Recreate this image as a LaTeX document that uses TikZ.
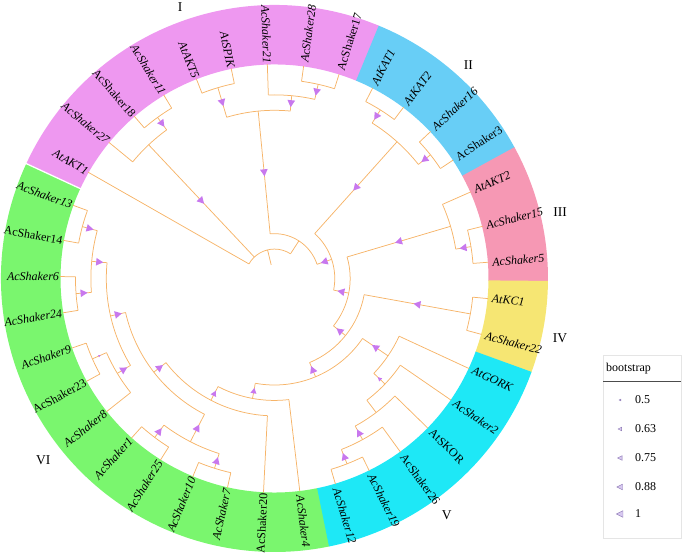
\documentclass[tikz,border=0pt]{standalone}
\usepackage{fontspec}
\setmainfont{Liberation Serif}
\definecolor{brc}{RGB}{246,180,105}
\definecolor{bsc}{RGB}{200,120,238}
\definecolor{gI}{RGB}{238,152,240}
\definecolor{gII}{RGB}{104,206,246}
\definecolor{gIII}{RGB}{246,152,180}
\definecolor{gIV}{RGB}{246,230,115}
\definecolor{gV}{RGB}{30,232,246}
\definecolor{gVI}{RGB}{122,246,110}
\definecolor{legedge}{RGB}{140,120,180}
\definecolor{legfill}{RGB}{215,200,240}
\newcommand\stem[3]{\draw[br] (#1:{14+15.42*(#2)}) -- (#1:{14+15.42*(#3)});}
\newcommand\arcat[3]{\draw[br] (#2:{14+15.42*(#1)}) arc[start angle=#2, end angle=#3, radius={14+15.42*(#1)}];}
\newcommand\bsm[4]{\fill[bsc, rotate=#1] ({7.71*(#2+#3)+14-0.55*#4},0) -- ({7.71*(#2+#3)+14+0.45*#4},{0.55*#4}) -- ({7.71*(#2+#3)+14+0.45*#4},{-0.55*#4}) -- cycle;}
\newcommand\seg[3]{\fill[#1] (#2:214) arc[start angle=#2,end angle=#3,radius=214] -- (#3:273.5) arc[start angle=#3,end angle=#2,radius=273.5] -- cycle;}
\newcommand\lbR[4]{\node[lab,anchor=west,rotate=#2] (#1) at (#2:214.5) {#3 #4};}
\newcommand\lbL[4]{\node[lab,anchor=east,rotate={#2+180}] (#1) at (#2:214.5) {#3 #4};}
\newcommand\legtri[4]{\filldraw[legedge, fill=legfill, line width=0.4pt] ({#1-0.55*#3},#2) -- ({#1+0.45*#3},{#2+0.5*#3}) -- ({#1+0.45*#3},{#2-0.5*#3}) -- cycle; \node[legtxt, anchor=west] at (634,#2) {#4};}
\begin{document}
\begin{tikzpicture}[x=1pt,y=1pt,
  br/.style={draw=brc, line width=0.75pt},
  lab/.style={font=\fontsize{12}{14}\selectfont, inner sep=0.8pt},
  glab/.style={font=\fontsize{13.5}{15}\selectfont, inner sep=0pt},
  legtxt/.style={font=\fontsize{12}{14}\selectfont, inner sep=1pt}]
\useasboundingbox (0,0) rectangle (685,553);
\begin{scope}[shift={(274.5,274.5)}]
% ring segments
\seg{gVI}{-78.35}{-204.84}
\seg{gI}{155.165}{67.45}
\seg{gII}{67.60}{28.55}
\seg{gIII}{28.68}{-0.65}
\seg{gIV}{-0.51}{-20.1}
\seg{gV}{-19.97}{-78.5}
\draw[white, line width=1.3pt] (155.165:212) -- (155.165:275);
% root
\stem{103.67}{0}{1}
\arcat{1}{150.3}{57.035}
\stem{150.3}{1}{13}
% clade 27/18/11
\stem{133.27}{1}{11} \bsm{133.27}{1}{11}{7}
\arcat{11}{140.57}{125.975}
\stem{140.57}{11}{13}
\stem{125.975}{11}{12} \bsm{125.975}{11}{12}{7}
\arcat{12}{130.84}{121.11}
\stem{130.84}{12}{13} \stem{121.11}{12}{13}
% A
\stem{57.035}{1}{2}
\arcat{2}{95.57}{18.5}
% X
\stem{95.57}{2}{10} \bsm{95.57}{2}{10}{7}
\arcat{10}{106.515}{84.62}
\stem{106.515}{10}{12} \bsm{106.515}{10}{12}{7}
\arcat{12}{111.38}{101.65}
\stem{111.38}{12}{13} \stem{101.65}{12}{13}
\stem{84.62}{10}{11} \bsm{84.62}{10}{11}{7}
\arcat{11}{91.92}{77.325}
\stem{91.92}{11}{13}
\stem{77.325}{11}{12} \bsm{77.325}{11}{12}{7}
\arcat{12}{82.19}{72.46}
\stem{82.19}{12}{13} \stem{72.46}{12}{13}
% B
\stem{18.5}{2}{3} \bsm{18.5}{2}{3}{7}
\arcat{3}{48.135}{-11.14}
% II
\stem{48.135}{3}{11} \bsm{48.135}{3}{11}{7}
\arcat{11}{57.865}{38.405}
\stem{57.865}{11}{12} \bsm{57.865}{11}{12}{7}
\arcat{12}{62.73}{53.0}
\stem{62.73}{12}{13} \stem{53.0}{12}{13}
\stem{38.405}{11}{12} \bsm{38.405}{11}{12}{7}
\arcat{12}{43.27}{33.54}
\stem{43.27}{12}{13} \stem{33.54}{12}{13}
% C
\stem{-11.14}{3}{4} \bsm{-11.14}{3}{4}{7}
\arcat{4}{16.51}{-38.79}
% III
\stem{16.51}{4}{11} \bsm{16.51}{4}{11}{7}
\arcat{11}{23.81}{9.215}
\stem{23.81}{11}{13}
\stem{9.215}{11}{12} \bsm{9.215}{11}{12}{7}
\arcat{12}{14.08}{4.35}
\stem{14.08}{12}{13} \stem{4.35}{12}{13}
% D
\stem{-38.79}{4}{5} \bsm{-38.79}{4}{5}{7}
\arcat{5}{-10.245}{-67.33}
% IV
\stem{-10.245}{5}{12} \bsm{-10.245}{5}{12}{7}
\arcat{12}{-5.38}{-15.11}
\stem{-5.38}{12}{13} \stem{-15.11}{12}{13}
% E
\stem{-67.33}{5}{6} \bsm{-67.33}{5}{6}{7}
\arcat{6}{-34.265}{-100.4}
% V clade
\stem{-34.265}{6}{8} \bsm{-34.265}{6}{8}{7}
\arcat{8}{-24.84}{-43.69}
\stem{-24.84}{8}{13}
\stem{-43.69}{8}{9} \bsm{-43.69}{8}{9}{4}
\arcat{9}{-34.57}{-52.815}
\stem{-34.57}{9}{13}
\stem{-52.815}{9}{10}
\arcat{10}{-44.30}{-61.33}
\stem{-44.30}{10}{13}
\stem{-61.33}{10}{11} \bsm{-61.33}{10}{11}{7}
\arcat{11}{-54.03}{-68.625}
\stem{-54.03}{11}{13}
\stem{-68.625}{11}{12} \bsm{-68.625}{11}{12}{7}
\arcat{12}{-63.76}{-73.49}
\stem{-63.76}{12}{13} \stem{-73.49}{12}{13}
% L
\stem{-100.4}{6}{7} \bsm{-100.4}{6}{7}{5.5}
\arcat{7}{-83.22}{-117.575}
\stem{-83.22}{7}{13}
% M
\stem{-117.575}{7}{8} \bsm{-117.575}{7}{8}{5.5}
\arcat{8}{-92.95}{-142.2}
\stem{-92.95}{8}{13}
% Q
\stem{-142.2}{8}{9} \bsm{-142.2}{8}{9}{7}
\arcat{9}{-117.275}{-167.13}
% J
\stem{-117.275}{9}{11} \bsm{-117.275}{9}{11}{7}
\arcat{11}{-107.545}{-127.005}
\stem{-107.545}{11}{12} \bsm{-107.545}{11}{12}{7}
\arcat{12}{-102.68}{-112.41}
\stem{-102.68}{12}{13} \stem{-112.41}{12}{13}
\stem{-127.005}{11}{12} \bsm{-127.005}{11}{12}{7}
\arcat{12}{-122.14}{-131.87}
\stem{-122.14}{12}{13} \stem{-131.87}{12}{13}
% Vnode
\stem{-167.13}{9}{10} \bsm{-167.13}{9}{10}{7}
\arcat{10}{-148.89}{-185.375}
% U
\stem{-148.89}{10}{11} \bsm{-148.89}{10}{11}{7}
\arcat{11}{-141.59}{-156.185}
\stem{-141.59}{11}{13}
\stem{-156.185}{11}{12} \bsm{-156.185}{11}{12}{2.2}
\arcat{12}{-151.32}{-161.05}
\stem{-151.32}{12}{13} \stem{-161.05}{12}{13}
% T
\stem{-185.375}{10}{11} \bsm{-185.375}{10}{11}{7}
\arcat{11}{-175.645}{-195.105}
\stem{-175.645}{11}{12} \bsm{-175.645}{11}{12}{7}
\arcat{12}{-170.78}{-180.51}
\stem{-170.78}{12}{13} \stem{-180.51}{12}{13}
\stem{-195.105}{11}{12} \bsm{-195.105}{11}{12}{7}
\arcat{12}{-190.24}{-199.97}
\stem{-190.24}{12}{13} \stem{-199.97}{12}{13}
% leaf labels
\lbL{l0}{150.3}{\itshape}{AtAKT1}
\lbL{l1}{140.57}{\itshape}{AcShaker27}
\lbL{l2}{130.84}{\upshape}{AcShaker18}
\lbL{l3}{121.11}{\itshape}{AcShaker11}
\lbL{l4}{111.38}{\itshape}{AtAKT5}
\lbL{l5}{101.65}{\itshape}{AtSPIK}
\lbL{l6}{91.92}{\itshape}{AcShaker21}
\lbR{l7}{82.19}{\itshape}{AcShaker28}
\lbR{l8}{72.46}{\upshape}{AcShaker17}
\lbR{l9}{62.73}{\itshape}{AtKAT1}
\lbR{l10}{53.0}{\itshape}{AtKAT2}
\lbR{l11}{43.27}{\itshape}{AcShaker16}
\lbR{l12}{33.54}{\upshape}{AcShaker3}
\lbR{l13}{23.81}{\itshape}{AtAKT2}
\lbR{l14}{14.08}{\itshape}{AcShaker15}
\lbR{l15}{4.35}{\itshape}{AcShaker5}
\lbR{l16}{-5.38}{\itshape}{AtKC1}
\lbR{l17}{-15.11}{\itshape}{AcShaker22}
\lbR{l18}{-24.84}{\itshape}{AtGORK}
\lbR{l19}{-34.57}{\itshape}{AcShaker2}
\lbR{l20}{-44.30}{\upshape}{AtSKOR}
\lbR{l21}{-54.03}{\upshape}{AcShaker26}
\lbR{l22}{-63.76}{\itshape}{AcShaker19}
\lbR{l23}{-73.49}{\itshape}{AcShaker12}
\lbR{l24}{-83.22}{\itshape}{AcShaker4}
\lbL{l25}{-92.95}{\upshape}{AcShaker20}
\lbL{l26}{-102.68}{\itshape}{AcShaker7}
\lbL{l27}{-112.41}{\itshape}{AcShaker10}
\lbL{l28}{-122.14}{\itshape}{AcShaker25}
\lbL{l29}{-131.87}{\itshape}{AcShaker1}
\lbL{l30}{-141.59}{\itshape}{AcShaker8}
\lbL{l31}{-151.32}{\upshape}{AcShaker23}
\lbL{l32}{-161.05}{\itshape}{AcShaker9}
\lbL{l33}{-170.78}{\itshape}{AcShaker24}
\lbL{l34}{-180.51}{\itshape}{AcShaker6}
\lbL{l35}{-190.24}{\upshape}{AcShaker14}
\lbL{l36}{-199.97}{\itshape}{AcShaker13}
\end{scope}
% group labels
\node[glab] (gI) at (180,545.5) {I};
\node[glab] (gII) at (468.3,488) {II};
\node[glab] (gIII) at (560,341.3) {III};
\node[glab] (gIV) at (560,214.7) {IV};
\node[glab] (gV) at (446.7,38) {V};
\node[glab] (gVI) at (43.3,93) {VI};
% legend
\draw[black!10, line width=0.5pt] (603,15) rectangle (681,198);
\node[legtxt, anchor=base west] (legt) at (605,181) {bootstrap};
\draw[black!70, line width=0.6pt] (603,172) -- (681,172);
\legtri{620}{153}{1.8}{0.5}
\legtri{620}{124}{3.6}{0.63}
\legtri{620}{95}{4.6}{0.75}
\legtri{620}{66}{5.6}{0.88}
\legtri{620}{39}{6.6}{1}
\end{tikzpicture}
\end{document}
